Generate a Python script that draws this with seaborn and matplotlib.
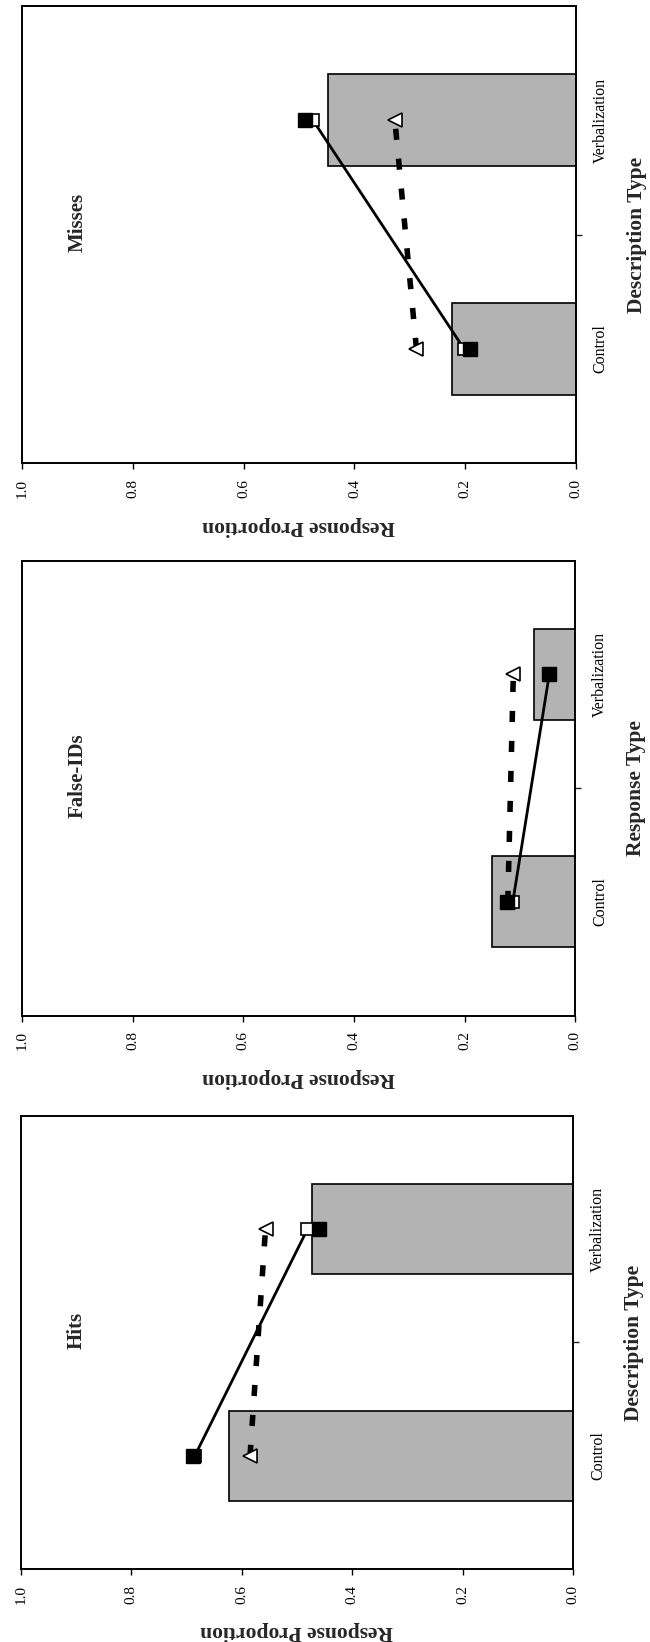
import numpy as np
import matplotlib
matplotlib.use("Agg")
import matplotlib.pyplot as plt
import seaborn as sns

# ---------------- data ----------------
categories = ["Control", "Verbalization"]
panel_titles = ["Misses", "False-IDs", "Hits"]          # top to bottom
axis_titles = ["Description Type", "Response Type", "Description Type"]
value_ticks = [0.0, 0.2, 0.4, 0.6, 0.8, 1.0]
value_tick_labels = ["0.0", "0.2", "0.4", "0.6", "0.8", "1.0"]
value_label = "Response Proportion"

misses_bar = [0.224, 0.447]
falseid_bar = [0.150, 0.075]
hits_bar = [0.623, 0.473]

misses_filled = [0.192, 0.490]
falseid_filled = [0.124, 0.047]
hits_filled = [0.689, 0.461]

misses_open = [0.202, 0.475]
falseid_open = [0.113, 0.047]
hits_open = [0.685, 0.481]

misses_tri = [0.288, 0.327]
falseid_tri = [0.122, 0.112]
hits_tri = [0.585, 0.557]

bars = [misses_bar, falseid_bar, hits_bar]
filled = [misses_filled, falseid_filled, hits_filled]
opened = [misses_open, falseid_open, hits_open]
tris = [misses_tri, falseid_tri, hits_tri]

# ---------------- style ----------------
sns.set_style("white")
plt.rcParams["font.family"] = ["Liberation Serif", "DejaVu Serif"]

fig = plt.figure(figsize=(6.5, 16.42), dpi=100)
positions = [
    [22 / 650, 0.71784, 554 / 650, 0.27868],
    [22 / 650, 0.38143, 553.3 / 650, 0.27710],
    [20.7 / 650, 0.04428, 552.6 / 650, 0.27625],
]

bar_color = "#b3b3b3"

for i, pos in enumerate(positions):
    ax = fig.add_axes(pos)
    sns.barplot(x=bars[i], y=categories, order=categories, orient="h",
                color=bar_color, saturation=1, edgecolor="black",
                linewidth=1.2, width=0.4, ax=ax, zorder=2)
    ypos = np.arange(len(categories))
    # dashed series with open triangles
    ax.plot(tris[i], ypos, color="black", lw=4, linestyle=(0, (2, 3.4)),
            dash_capstyle="butt", zorder=3)
    ax.plot(tris[i], ypos, linestyle="none", marker="<", ms=10,
            mfc="white", mec="black", mew=1.2, zorder=4)
    # solid series with open squares
    ax.plot(opened[i], ypos, color="black", lw=2, marker="s", ms=9,
            mfc="white", mec="black", mew=1.2, zorder=5)
    # filled squares
    ax.plot(filled[i], ypos, linestyle="none", marker="s", ms=10.5,
            mfc="black", mec="black", zorder=6)

    ax.set_xlim(1.0, 0.0)
    ax.set_ylim(-0.5, 1.5)

    # value axis (horizontal, at bottom)
    ax.set_xticks(value_ticks)
    ax.set_xticklabels(value_tick_labels, rotation=90, fontsize=11)
    ax.tick_params(axis="x", direction="out", length=4, width=1,
                   pad=7, bottom=True, top=False, colors="black")
    ax.set_xlabel(value_label, fontsize=15.5, fontweight="bold", rotation=180)
    ax.xaxis.set_label_coords(0.5, -0.137)
    ax.xaxis.label.set_verticalalignment("center")
    ax.xaxis.label.set_horizontalalignment("center")

    # category axis (vertical, at right)
    ax.yaxis.set_ticks_position("right")
    ax.set_yticks(ypos)
    ax.set_yticklabels(categories, rotation=90, fontsize=11.5,
                       va="center")
    ax.set_yticks([0.5], minor=True)
    ax.tick_params(axis="y", which="major", length=0, pad=12,
                   right=True, left=False, labelright=True,
                   labelleft=False, colors="black")
    ax.tick_params(axis="y", which="minor", length=4, width=1,
                   direction="out", right=True, left=False)
    ax.yaxis.set_label_position("right")
    ax.set_ylabel(axis_titles[i], fontsize=15.5, fontweight="bold",
                  rotation=90)
    ax.yaxis.set_label_coords(1.11, 0.5)
    ax.yaxis.label.set_verticalalignment("center")
    ax.yaxis.label.set_horizontalalignment("center")

    # panel title
    ax.text(0.101, 0.527, panel_titles[i], transform=ax.transAxes,
            rotation=90, ha="center", va="center", fontsize=15,
            fontweight="bold")

    for s in ax.spines.values():
        s.set_visible(True)
        s.set_color("black")
        s.set_linewidth(1.4)
    ax.grid(False)
    ax.set_facecolor("white")

fig.savefig("out.png", dpi=100, facecolor="white")
